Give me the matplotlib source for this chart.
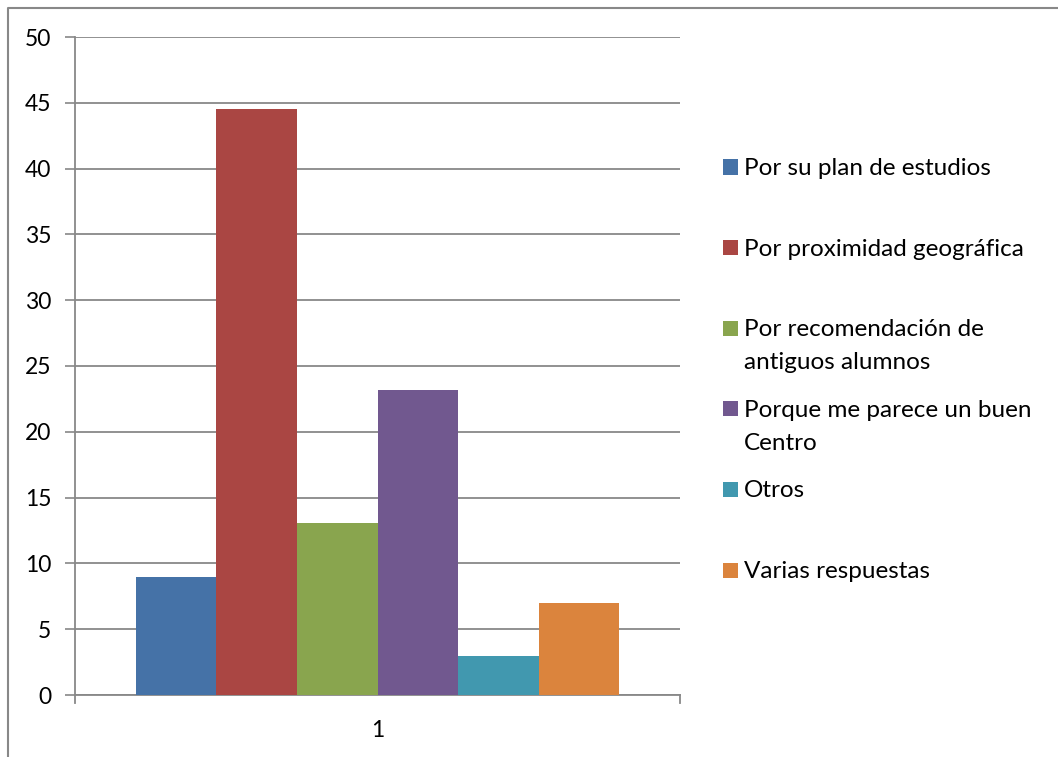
import matplotlib
matplotlib.use("Agg")
import matplotlib.pyplot as plt
from matplotlib.patches import Rectangle
from matplotlib.lines import Line2D

plt.rcParams['font.family'] = ['Lato', 'DejaVu Sans']

# datos
categorias = ["1"]
series = ["Por su plan de estudios", "Por proximidad geográfica",
          "Por recomendación de\nantiguos alumnos",
          "Porque me parece un buen\nCentro", "Otros", "Varias respuestas"]
valores = [9.0, 44.5, 13.1, 23.2, 3.0, 7.0]
colores = ["#4572A7", "#AA4643", "#89A54E", "#71588F", "#4198AF", "#DB843D"]
yticks = [0, 5, 10, 15, 20, 25, 30, 35, 40, 45, 50]

W, H = 1058, 757
fig = plt.figure(figsize=(W / 100, H / 100), dpi=100)
ax = fig.add_axes([75 / W, (H - 695) / H, 605 / W, 658 / H])

n = len(series)
ancho = 0.8 / n
for i, (v, c) in enumerate(zip(valores, colores)):
    x = 1 - 0.4 + ancho * (i + 0.5)
    ax.bar(x, v, width=ancho, color=c, zorder=3, linewidth=0)

ax.set_xlim(0.5, 1.5)
ax.set_ylim(0, 50)
ax.set_yticks(yticks)
ax.set_yticklabels([str(t) for t in yticks], fontsize=16.5)
ax.set_xticks([1])
ax.set_xticklabels(categorias, fontsize=16.5)
ax.tick_params(axis='x', length=0, pad=18)
ax.tick_params(axis='y', length=7, width=1.2, color='#888888', pad=10)
ax.yaxis.grid(True, color='#888888', linewidth=1.3, zorder=0)
for s in ['top', 'right']:
    ax.spines[s].set_visible(False)
for s in ['left', 'bottom']:
    ax.spines[s].set_color('#888888')
    ax.spines[s].set_linewidth(1.3)
# marcas en los extremos del eje x
ax.plot([0.5, 0.5], [0, -0.6], color='#888888', lw=1.3, clip_on=False)
ax.plot([1.5, 1.5], [0, -0.6], color='#888888', lw=1.3, clip_on=False)

# leyenda
y0, paso, linea = 167, 80.6, 33
for i, (lab, c) in enumerate(zip(series, colores)):
    yc = y0 + i * paso
    fig.add_artist(Rectangle((723 / W, (H - yc - 7.5) / H), 15 / W, 15 / H,
                             transform=fig.transFigure, color=c, lw=0))
    for j, txt in enumerate(lab.split("\n")):
        fig.text(744 / W, (H - yc - 8 - j * linea) / H, txt, fontsize=17.5,
                 va='baseline', ha='left')

# borde exterior (solo izquierda y arriba visibles)
fig.add_artist(Line2D([7.5 / W, 7.5 / W, 1], [0, (H - 7.5) / H, (H - 7.5) / H],
                      transform=fig.transFigure, color='#888888', lw=1.5))

fig.savefig("out.png", dpi=100)
